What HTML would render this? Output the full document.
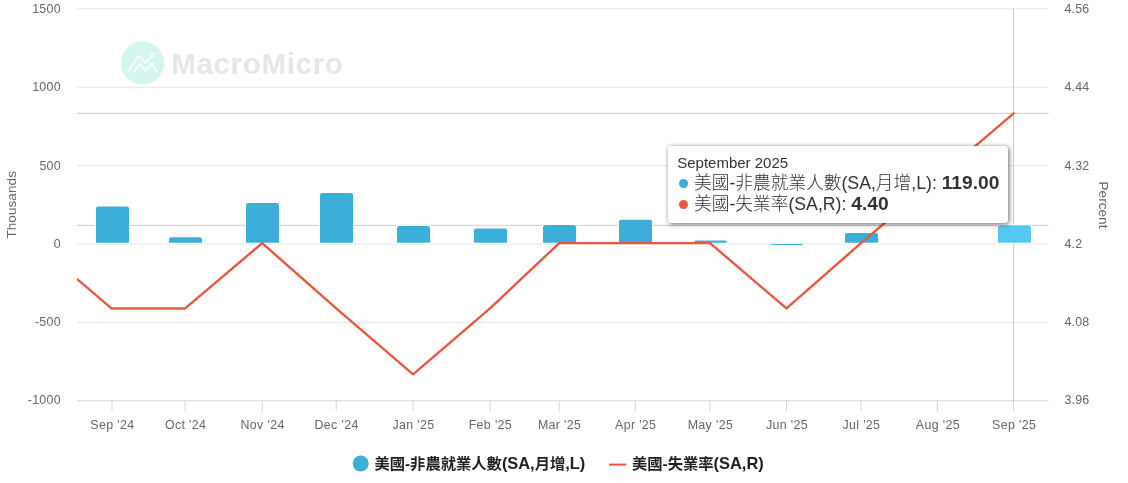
<!DOCTYPE html>
<html><head><meta charset="utf-8"><title>MacroMicro</title>
<style>
html,body{margin:0;padding:0;background:#fff;}
body{width:1128px;height:483px;position:relative;overflow:hidden;font-family:"Liberation Sans","Noto Sans CJK TC",sans-serif;}
svg{position:absolute;left:0;top:0;}
svg text{font-family:"Liberation Sans","Noto Sans CJK TC",sans-serif;}
.ax{font-size:12.4px;fill:#666;}
.tt{font-size:13.5px;fill:#666;letter-spacing:.08px;}
.la{font-size:16.4px;}
.lg{font-size:15.3px;font-weight:bold;fill:#1f1f1f;}
#tip{position:absolute;left:668.4px;top:145.9px;width:337.5px;height:75.2px;background:#fff;border:1px solid transparent;border-radius:3px;box-shadow:1px 1px 5px rgba(0,0,0,.6);color:#333;}
#tip .h{position:absolute;left:7.8px;top:7px;font-size:15px;line-height:18px;white-space:nowrap;}
#tip .r{position:absolute;left:7.8px;font-weight:300;font-size:17.7px;line-height:21px;white-space:nowrap;}
#tip .r b{font-weight:bold;font-size:19.2px;line-height:0;}
#tip .d{display:inline-block;width:8.8px;height:8.8px;border-radius:50%;margin-right:6.3px;margin-left:1.8px;vertical-align:1px;}
</style></head><body>
<svg width="1128" height="483" viewBox="0 0 1128 483">

<g><circle cx="142.55" cy="62.9" r="21.6" fill="#d5f6ee"/>
<polyline points="128.4,71.4 138.3,55.5 145.5,62.9 150.9,57.1" fill="none" stroke="#f4fdfb" stroke-width="2.1" stroke-linecap="round" stroke-linejoin="round"/>
<polyline points="134.6,71.4 139.3,64 145.5,70.5 152,63.2 156.6,71.4" fill="none" stroke="#f4fdfb" stroke-width="2.1" stroke-linecap="round" stroke-linejoin="round"/>
<circle cx="152.5" cy="55.2" r="1.9" fill="none" stroke="#f4fdfb" stroke-width="1.5"/>
<text x="171.2" y="73.6" font-size="29.6" font-weight="bold" fill="#e5e6e8" letter-spacing="0.62">MacroMicro</text></g>

<rect x="77.0" y="8.30" width="971.6" height="1" fill="#e6e6e6"/>
<rect x="77.0" y="86.70" width="971.6" height="1" fill="#e6e6e6"/>
<rect x="77.0" y="165.10" width="971.6" height="1" fill="#e6e6e6"/>
<rect x="77.0" y="243.50" width="971.6" height="1" fill="#e6e6e6"/>
<rect x="77.0" y="321.90" width="971.6" height="1" fill="#e6e6e6"/>
<rect x="77.0" y="400.30" width="971.6" height="1" fill="#d4d4d4"/>

<rect x="111.50" y="400.80" width="1" height="10.3" fill="#d4d4d4"/>
<rect x="184.70" y="400.80" width="1" height="10.3" fill="#d4d4d4"/>
<rect x="261.70" y="400.80" width="1" height="10.3" fill="#d4d4d4"/>
<rect x="335.70" y="400.80" width="1" height="10.3" fill="#d4d4d4"/>
<rect x="412.60" y="400.80" width="1" height="10.3" fill="#d4d4d4"/>
<rect x="489.50" y="400.80" width="1" height="10.3" fill="#d4d4d4"/>
<rect x="558.70" y="400.80" width="1" height="10.3" fill="#d4d4d4"/>
<rect x="634.80" y="400.80" width="1" height="10.3" fill="#d4d4d4"/>
<rect x="709.50" y="400.80" width="1" height="10.3" fill="#d4d4d4"/>
<rect x="786.00" y="400.80" width="1" height="10.3" fill="#d4d4d4"/>
<rect x="860.50" y="400.80" width="1" height="10.3" fill="#d4d4d4"/>
<rect x="937.00" y="400.80" width="1" height="10.3" fill="#d4d4d4"/>
<rect x="1013.00" y="400.80" width="1" height="10.3" fill="#d4d4d4"/>
<rect x="1013.00" y="8.80" width="1" height="392.00" fill="#cccccc"/>
<rect x="77.0" y="224.84" width="971.6" height="1" fill="#cccccc"/>
<rect x="77.0" y="112.80" width="971.6" height="1" fill="#cccccc"/>

<path d="M95.00,243.50 V207.60 Q95.00,205.40 97.20,205.40 H127.80 Q130.00,205.40 130.00,207.60 V243.50 Z" fill="#fff"/>
<path d="M96.00,242.80 V208.60 Q96.00,206.40 98.20,206.40 H126.80 Q129.00,206.40 129.00,208.60 V242.80 Z" fill="#3bafda"/>
<path d="M168.00,243.50 V238.40 Q168.00,236.20 170.20,236.20 H200.80 Q203.00,236.20 203.00,238.40 V243.50 Z" fill="#fff"/>
<path d="M169.00,242.80 V239.40 Q169.00,237.20 171.20,237.20 H199.80 Q202.00,237.20 202.00,239.40 V242.80 Z" fill="#3bafda"/>
<path d="M245.00,243.50 V204.20 Q245.00,202.00 247.20,202.00 H277.80 Q280.00,202.00 280.00,204.20 V243.50 Z" fill="#fff"/>
<path d="M246.00,242.80 V205.20 Q246.00,203.00 248.20,203.00 H276.80 Q279.00,203.00 279.00,205.20 V242.80 Z" fill="#3bafda"/>
<path d="M319.00,243.50 V194.30 Q319.00,192.10 321.20,192.10 H351.80 Q354.00,192.10 354.00,194.30 V243.50 Z" fill="#fff"/>
<path d="M320.00,242.80 V195.30 Q320.00,193.10 322.20,193.10 H350.80 Q353.00,193.10 353.00,195.30 V242.80 Z" fill="#3bafda"/>
<path d="M396.00,243.50 V227.30 Q396.00,225.10 398.20,225.10 H428.80 Q431.00,225.10 431.00,227.30 V243.50 Z" fill="#fff"/>
<path d="M397.00,242.80 V228.30 Q397.00,226.10 399.20,226.10 H427.80 Q430.00,226.10 430.00,228.30 V242.80 Z" fill="#3bafda"/>
<path d="M473.00,243.50 V229.60 Q473.00,227.40 475.20,227.40 H505.80 Q508.00,227.40 508.00,229.60 V243.50 Z" fill="#fff"/>
<path d="M474.00,242.80 V230.60 Q474.00,228.40 476.20,228.40 H504.80 Q507.00,228.40 507.00,230.60 V242.80 Z" fill="#3bafda"/>
<path d="M542.00,243.50 V226.10 Q542.00,223.90 544.20,223.90 H574.80 Q577.00,223.90 577.00,226.10 V243.50 Z" fill="#fff"/>
<path d="M543.00,242.80 V227.10 Q543.00,224.90 545.20,224.90 H573.80 Q576.00,224.90 576.00,227.10 V242.80 Z" fill="#3bafda"/>
<path d="M618.00,243.50 V220.86 Q618.00,218.66 620.20,218.66 H650.80 Q653.00,218.66 653.00,220.86 V243.50 Z" fill="#fff"/>
<path d="M619.00,242.80 V221.86 Q619.00,219.66 621.20,219.66 H649.80 Q652.00,219.66 652.00,221.86 V242.80 Z" fill="#3bafda"/>
<path d="M693.00,243.50 V241.80 Q693.00,239.60 695.20,239.60 H725.80 Q728.00,239.60 728.00,241.80 V243.50 Z" fill="#fff"/>
<path d="M694.00,242.80 V242.80 Q694.00,240.60 696.20,240.60 H724.80 Q727.00,240.60 727.00,242.80 V242.80 Z" fill="#3bafda"/>
<rect x="771.20" y="243.90" width="31.4" height="1.15" rx="0.5" fill="#3bafda"/>
<path d="M844.00,243.50 V234.20 Q844.00,232.00 846.20,232.00 H876.80 Q879.00,232.00 879.00,234.20 V243.50 Z" fill="#fff"/>
<path d="M845.00,242.80 V235.20 Q845.00,233.00 847.20,233.00 H875.80 Q878.00,233.00 878.00,235.20 V242.80 Z" fill="#3bafda"/>
<rect x="921.00" y="243.00" width="34.0" height="1.25" fill="#fff"/>
<rect x="922.50" y="243.50" width="31.0" height="0.8" fill="#3bafda" opacity="0.16"/>
<path d="M997.00,243.50 V226.40 Q997.00,224.20 999.20,224.20 H1029.80 Q1032.00,224.20 1032.00,226.40 V243.50 Z" fill="#fff"/>
<path d="M998.00,242.80 V227.40 Q998.00,225.20 1000.20,225.20 H1028.80 Q1031.00,225.20 1031.00,227.40 V242.80 Z" fill="#55c8f2"/>


<clipPath id="cp"><rect x="77.0" y="0" width="971.6" height="420"/></clipPath>
<polyline clip-path="url(#cp)" fill="none" stroke="#e9573f" stroke-width="2.4" stroke-linejoin="round" stroke-linecap="round" points="34.85,243.10 111.50,308.45 185.20,308.45 262.20,243.10 336.20,308.45 413.10,374.30 490.00,308.45 559.20,243.10 635.30,243.10 710.00,243.10 786.50,308.45 861.00,243.10 937.50,178.20 1013.70,113.30"/>

<text class="ax" x="60.9" y="13.10" text-anchor="end" letter-spacing="0.28">1500</text>
<text class="ax" x="60.9" y="91.30" text-anchor="end" letter-spacing="0.28">1000</text>
<text class="ax" x="60.9" y="169.50" text-anchor="end" letter-spacing="0.28">500</text>
<text class="ax" x="60.9" y="247.70" text-anchor="end" letter-spacing="0.28">0</text>
<text class="ax" x="60.9" y="325.90" text-anchor="end" letter-spacing="0.28">-500</text>
<text class="ax" x="60.9" y="404.10" text-anchor="end" letter-spacing="0.28">-1000</text>
<text class="ax" x="1064.6" y="13.10" letter-spacing="0.12">4.56</text>
<text class="ax" x="1064.6" y="91.30" letter-spacing="0.12">4.44</text>
<text class="ax" x="1064.6" y="169.50" letter-spacing="0.12">4.32</text>
<text class="ax" x="1064.6" y="247.70" letter-spacing="0.12">4.2</text>
<text class="ax" x="1064.6" y="325.90" letter-spacing="0.12">4.08</text>
<text class="ax" x="1064.6" y="404.10" letter-spacing="0.12">3.96</text>
<text class="ax" x="112.40" y="429.2" text-anchor="middle" letter-spacing="0.35">Sep '24</text>
<text class="ax" x="185.60" y="429.2" text-anchor="middle" letter-spacing="0.35">Oct '24</text>
<text class="ax" x="262.60" y="429.2" text-anchor="middle" letter-spacing="0.35">Nov '24</text>
<text class="ax" x="336.60" y="429.2" text-anchor="middle" letter-spacing="0.35">Dec '24</text>
<text class="ax" x="413.50" y="429.2" text-anchor="middle" letter-spacing="0.35">Jan '25</text>
<text class="ax" x="490.40" y="429.2" text-anchor="middle" letter-spacing="0.35">Feb '25</text>
<text class="ax" x="559.60" y="429.2" text-anchor="middle" letter-spacing="0.35">Mar '25</text>
<text class="ax" x="635.70" y="429.2" text-anchor="middle" letter-spacing="0.35">Apr '25</text>
<text class="ax" x="710.40" y="429.2" text-anchor="middle" letter-spacing="0.35">May '25</text>
<text class="ax" x="786.90" y="429.2" text-anchor="middle" letter-spacing="0.35">Jun '25</text>
<text class="ax" x="861.40" y="429.2" text-anchor="middle" letter-spacing="0.35">Jul '25</text>
<text class="ax" x="937.90" y="429.2" text-anchor="middle" letter-spacing="0.35">Aug '25</text>
<text class="ax" x="1014.10" y="429.2" text-anchor="middle" letter-spacing="0.35">Sep '25</text>


<text class="tt" transform="translate(16.0,204.8) rotate(-90)" text-anchor="middle">Thousands</text>
<text class="tt" transform="translate(1099.4,205) rotate(90)" text-anchor="middle">Percent</text>

<circle cx="360.7" cy="463.5" r="8" fill="#3bafda"/>
<text class="lg" x="374.4" y="469.2">美國-非農就業人數<tspan class="la">(SA,</tspan>月增<tspan class="la">,L)</tspan></text>
<rect x="609" y="463.6" width="17.2" height="2" fill="#e9573f"/>
<text class="lg" x="632" y="469.2">美國-失業率<tspan class="la">(SA,R)</tspan></text>
</svg>

<div id="tip"><div class="h">September 2025</div>
<div class="r" style="top:26.4px"><span class="d" style="background:#3bafda"></span>美國-非農就業人數(SA,月增,L): <b>119.00</b></div>
<div class="r" style="top:47.5px"><span class="d" style="background:#e9573f;vertical-align:1.5px"></span>美國-失業率(SA,R): <b>4.40</b></div>
</div>
</body></html>
